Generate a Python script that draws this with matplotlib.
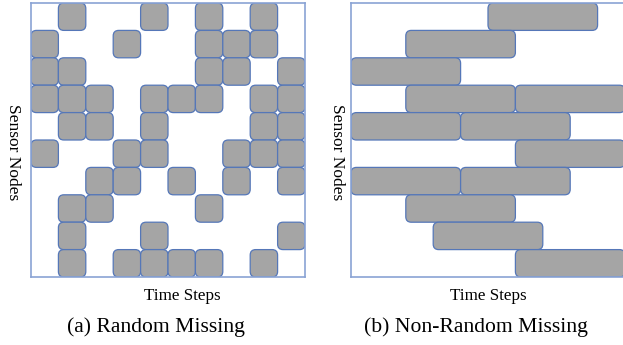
import matplotlib

matplotlib.use("Agg")
import matplotlib.pyplot as plt
from matplotlib.patches import FancyBboxPatch

# Random missing: for each sensor node (row, top to bottom) the missing time steps
random_missing_rows = [
    [1, 4, 6, 8],
    [0, 3, 6, 7, 8],
    [0, 1, 6, 7, 9],
    [0, 1, 2, 4, 5, 6, 8, 9],
    [1, 2, 4, 8, 9],
    [0, 3, 4, 7, 8, 9],
    [2, 3, 5, 7, 9],
    [1, 2, 6],
    [1, 4, 9],
    [1, 3, 4, 5, 6, 8],
]

# Non-random missing: blocks of consecutive missing steps (row, start step)
block_rows = [0, 1, 2, 3, 3, 4, 4, 5, 6, 6, 7, 8, 9]
block_starts = [5, 2, 0, 2, 6, 0, 4, 6, 0, 4, 2, 3, 6]
block_length = 4

n_nodes = 10
n_steps = 10

fill_color = "#a5a5a5"
edge_color = "#5577b8"
frame_color = "#8aa3d4"

plt.rcParams["font.family"] = ["Liberation Serif", "DejaVu Serif"]

W, H = 623, 345
fig = plt.figure(figsize=(W / 100, H / 100), dpi=100)


def make_axes(left_px):
    ax = fig.add_axes([left_px / W, 1 - 277 / H, 274 / W, 274 / H])
    ax.set_xlim(0, n_steps)
    ax.set_ylim(n_nodes, 0)
    ax.set_xticks([])
    ax.set_yticks([])
    for sp in ax.spines.values():
        sp.set_color(frame_color)
        sp.set_linewidth(1.2)
    return ax


def add_cell(ax, x, y, w, h):
    box = FancyBboxPatch(
        (x, y),
        w,
        h,
        boxstyle="round,pad=0,rounding_size=0.2",
        facecolor=fill_color,
        edgecolor=edge_color,
        linewidth=0.9,
        zorder=2,
    )
    ax.add_patch(box)


# (a) random missing
ax1 = make_axes(31)
for row, cols in enumerate(random_missing_rows):
    for col in cols:
        add_cell(ax1, col, row, 1, 1)

# (b) non-random missing
ax2 = make_axes(351)
for row, start in zip(block_rows, block_starts):
    add_cell(ax2, start, row, block_length, 1)

# labels
fig.text(13 / W, 1 - 152 / H, "Sensor Nodes", rotation=-90, fontsize=12.5,
         ha="center", va="center")
fig.text(337 / W, 1 - 152 / H, "Sensor Nodes", rotation=-90, fontsize=12.5,
         ha="center", va="center")
fig.text(182 / W, 1 - 296 / H, "Time Steps", fontsize=12.3, ha="center", va="center")
fig.text(488 / W, 1 - 296 / H, "Time Steps", fontsize=12.3, ha="center", va="center")
fig.text(156 / W, 1 - 327 / H, "(a) Random Missing", fontsize=15.6,
         ha="center", va="center")
fig.text(476 / W, 1 - 327 / H, "(b) Non-Random Missing", fontsize=15.6,
         ha="center", va="center")

fig.savefig("out.png", dpi=100)
